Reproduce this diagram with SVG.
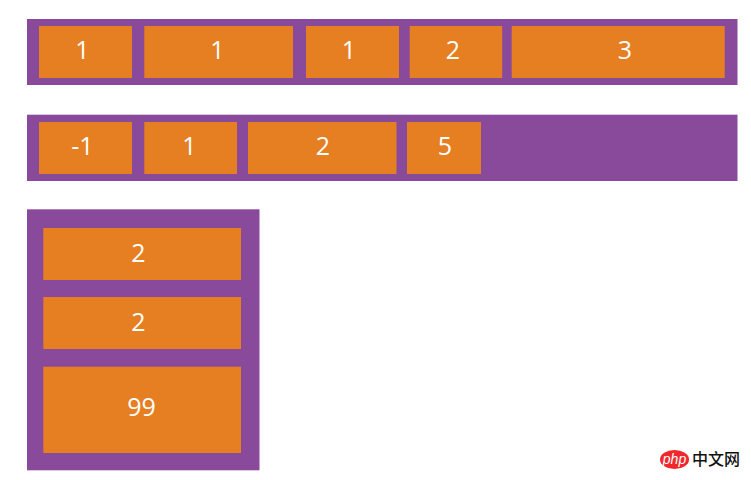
<svg xmlns="http://www.w3.org/2000/svg" width="751" height="480" viewBox="0 0 751 480">
<style>
.box{fill:#8a4a9b}
.item{fill:#e67e22}
.num{font-family:"Open Sans",sans-serif;font-size:25px;fill:#fff;text-anchor:middle}
</style>
<rect width="751" height="480" fill="#fff"/>
<g id="row1">
<rect class="box" x="27" y="19" width="710.5" height="66"/>
<g id="r1a"><rect class="item" x="39" y="26" width="93" height="52"/><text class="num" x="82.500" y="59">1</text></g>
<g id="r1b"><rect class="item" x="144.300" y="26" width="148.700" height="52"/><text class="num" x="217.500" y="59">1</text></g>
<g id="r1c"><rect class="item" x="306" y="26" width="93" height="52"/><text class="num" x="348.800" y="59">1</text></g>
<g id="r1d"><rect class="item" x="409.700" y="26" width="92.500" height="52"/><text class="num" x="453" y="59">2</text></g>
<g id="r1e"><rect class="item" x="511.700" y="26" width="213" height="52"/><text class="num" x="625" y="59">3</text></g>
</g>
<g id="row2">
<rect class="box" x="27" y="114.700" width="710.5" height="66.300"/>
<g id="r2a"><rect class="item" x="39" y="122" width="93" height="52"/><text class="num" x="82.500" y="155">-1</text></g>
<g id="r2b"><rect class="item" x="144.300" y="122" width="92.700" height="52"/><text class="num" x="189.300" y="155">1</text></g>
<g id="r2c"><rect class="item" x="248" y="122" width="148.500" height="52"/><text class="num" x="323" y="155">2</text></g>
<g id="r2d"><rect class="item" x="407" y="122" width="74" height="52"/><text class="num" x="445" y="155">5</text></g>
</g>
<g id="col">
<rect class="box" x="27" y="209.300" width="232.500" height="261"/>
<g id="c1"><rect class="item" x="43.300" y="228" width="197.700" height="52"/><text class="num" x="138.500" y="262">2</text></g>
<g id="c2"><rect class="item" x="43.300" y="297" width="197.700" height="52"/><text class="num" x="138.500" y="330.500">2</text></g>
<g id="c3"><rect class="item" x="43.300" y="366.700" width="197.700" height="86.300"/><text class="num" x="141.500" y="415.500">99</text></g>
</g>
<g id="watermark">
<ellipse cx="674.500" cy="459.500" rx="14.500" ry="9.500" fill="#f0272b"/>
<text x="674.500" y="464" font-family="Liberation Sans,sans-serif" font-size="14" font-style="italic" fill="#fff" text-anchor="middle">php</text>
<text x="692" y="465" font-family="Noto Sans CJK SC,sans-serif" font-size="16" font-weight="500" fill="#111">中文网</text>
</g>
</svg>
